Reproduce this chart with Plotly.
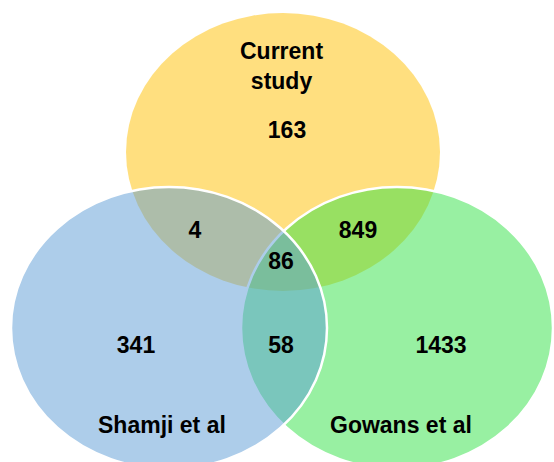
import plotly.graph_objects as go

# Datos del diagrama de Venn
conjuntos = ['Current<br>study', 'Shamji et al', 'Gowans et al']
regiones = ['solo_current', 'current_shamji', 'current_gowans', 'los_tres',
            'solo_shamji', 'shamji_gowans', 'solo_gowans']
conteos = [163, 4, 849, 86, 341, 58, 1433]

# Geometría (coordenadas de pixel, eje y invertido)
ELIPSES = {
    'Current<br>study': dict(cx=283, cy=152, rx=157, ry=139, color='rgba(255,192,0,0.5)', linea=None),
    'Gowans et al': dict(cx=397, cy=328, rx=156, ry=141, color='rgba(49,225,69,0.5)', linea='white'),
    'Shamji et al': dict(cx=169, cy=328, rx=158, ry=141, color='rgba(91,155,213,0.5)', linea='white'),
}
POS_REGION = {
    'solo_current': (287, 132),
    'current_shamji': (195, 232),
    'current_gowans': (358, 232),
    'los_tres': (281, 263),
    'solo_shamji': (136, 347),
    'shamji_gowans': (281, 347),
    'solo_gowans': (441, 347),
}
POS_CONJUNTO = {
    'Current<br>study': (281, 66),
    'Shamji et al': (162, 425),
    'Gowans et al': (401, 425),
}

FUENTE = dict(family='Liberation Sans, Arial, sans-serif', size=23, color='black', weight='bold')

fig = go.Figure()

for nombre, e in ELIPSES.items():
    fig.add_shape(
        type='circle', xref='x', yref='y',
        x0=e['cx'] - e['rx'], x1=e['cx'] + e['rx'],
        y0=e['cy'] - e['ry'], y1=e['cy'] + e['ry'],
        fillcolor=e['color'],
        line=dict(color=e['linea'] or 'rgba(0,0,0,0)', width=2.5 if e['linea'] else 0),
        layer='below',
    )

fig.add_trace(go.Scatter(
    x=[POS_REGION[r][0] for r in regiones],
    y=[POS_REGION[r][1] for r in regiones],
    text=[str(c) for c in conteos],
    mode='text',
    textfont=FUENTE,
    hoverinfo='skip',
    showlegend=False,
))

for nombre in conjuntos:
    x, y = POS_CONJUNTO[nombre]
    fig.add_annotation(
        x=x, y=y, xref='x', yref='y', text=nombre, showarrow=False,
        font=FUENTE, xanchor='center', yanchor='middle',
    )

fig.update_layout(
    width=554, height=462,
    margin=dict(l=0, r=0, t=0, b=0),
    plot_bgcolor='white', paper_bgcolor='white',
    showlegend=False,
)
fig.update_xaxes(range=[0, 554], visible=False, fixedrange=True)
fig.update_yaxes(range=[462, 0], visible=False, fixedrange=True)

fig.write_html('out.html', post_script="document.body.style.margin='0';",
               config={'displayModeBar': False})
